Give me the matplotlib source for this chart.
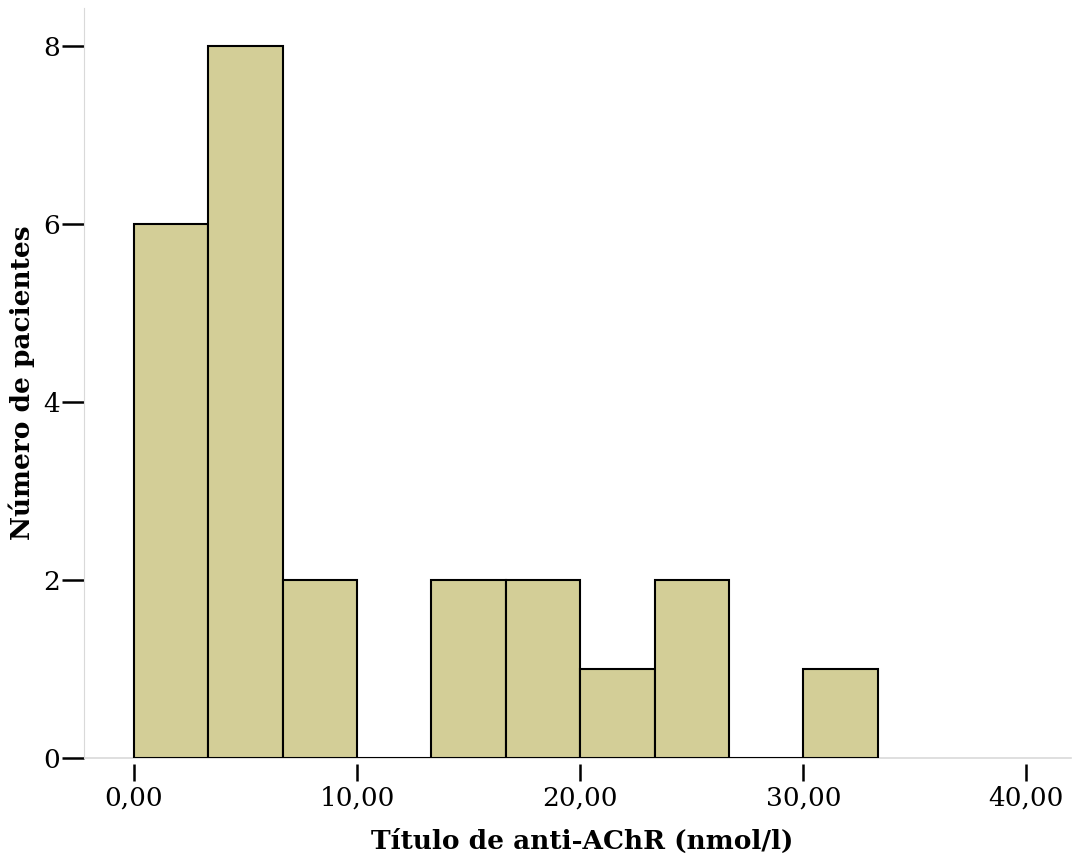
import numpy as np
import matplotlib.pyplot as plt

# histogram counts per bin (bin width 10/3)
bin_edges = np.linspace(0, 100 / 3, 11)
counts = [6, 8, 2, 0, 2, 2, 1, 2, 0, 1]
x_ticks = [0, 10, 20, 30, 40]
x_labels = ['0,00', '10,00', '20,00', '30,00', '40,00']
y_ticks = [0, 2, 4, 6, 8]

plt.rcParams['font.family'] = ['DejaVu Serif']

fig = plt.figure(figsize=(10.73, 8.58), dpi=100)
ax = fig.add_axes([84 / 1073, 1 - 758 / 858, (1071 - 84) / 1073, (758 - 8) / 858])

widths = np.diff(bin_edges)
ax.bar(bin_edges[:-1], counts, width=widths, align='edge',
       color='#D3CE97', edgecolor='black', linewidth=1.5, zorder=2)

ax.set_xlim(-2.24, 42.0)
ax.set_ylim(0, 8.43)

ax.set_xticks(x_ticks)
ax.set_xticklabels(x_labels)
ax.set_yticks(y_ticks)

for s in ['top', 'right']:
    ax.spines[s].set_visible(False)
ax.spines['left'].set_color('#D9D9D9')
ax.spines['bottom'].set_color('none')
ax.spines['bottom'].set_position(('outward', 4))
ax.axhline(0, color='#D9D9D9', linewidth=1.2, clip_on=False, zorder=1)

ax.tick_params(axis='x', direction='out', length=12, width=1.8, pad=4, labelsize=19)
ax.tick_params(axis='y', direction='out', length=16, width=1.8, pad=1, labelsize=19)

ax.set_xlabel('Título de anti-AChR (nmol/l)', fontsize=19, fontweight='bold')
ax.set_ylabel('Número de pacientes', fontsize=19, fontweight='bold')
ax.xaxis.set_label_coords(0.505, -0.094)
ax.yaxis.set_label_coords(-0.05, 0.5)

fig.savefig('out.png', dpi=100)
